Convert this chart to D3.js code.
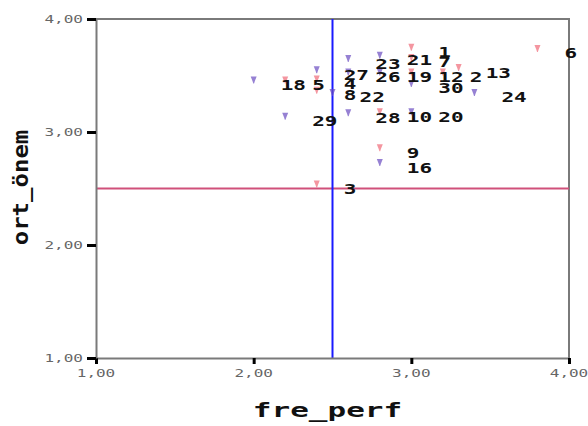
<!DOCTYPE html>
<html>
<head>
<meta charset="utf-8">
<script src="https://cdn.jsdelivr.net/npm/d3@7"></script>
<style>
  body { margin: 0; background: #fff; }
  svg { display: block; }
</style>
</head>
<body>
<div id="chart"></div>
<script>
var width = 588;
var height = 426;
var margin = {top: 19, right: 19, bottom: 68, left: 96};
var w = width - margin.left - margin.right;
var h = height - margin.top - margin.bottom;

// case labels, fre_perf, ort_önem, marker colour group
var caseLabels = ["18", "5", "29", "27", "4", "8", "22", "3",
                  "23", "26", "28",
                  "21", "19", "10", "9", "16",
                  "1", "7", "12", "30", "20",
                  "2", "13", "24", "6"];
var frePerf = [2.0, 2.2, 2.2, 2.4, 2.4, 2.4, 2.5, 2.4,
               2.6, 2.6, 2.6,
               2.8, 2.8, 2.8, 2.8, 2.8,
               3.0, 3.0, 3.0, 3.0, 3.0,
               3.2, 3.3, 3.4, 3.8];
var ortOnem = [3.46, 3.46, 3.14, 3.55, 3.47, 3.37, 3.35, 2.54,
               3.65, 3.53, 3.17,
               3.68, 3.53, 3.18, 2.86, 2.73,
               3.75, 3.66, 3.53, 3.43, 3.18,
               3.53, 3.57, 3.35, 3.74];
var groups = ["b", "r", "b", "b", "r", "r", "b", "r",
              "b", "b", "b",
              "b", "b", "r", "r", "b",
              "r", "r", "r", "b", "b",
              "r", "r", "b", "r"];
var xTicks = [1, 2, 3, 4];
var yTicks = [1, 2, 3, 4];
var refX = 2.5;
var refY = 2.5;

var points = caseLabels.map(function(d, i) {
  return {label: d, x: frePerf[i], y: ortOnem[i], g: groups[i]};
});

var x = d3.scaleLinear().domain([1, 4]).range([0, w]);
var y = d3.scaleLinear().domain([1, 4]).range([h, 0]);
var fmt = function(d) { return d3.format(".2f")(d).replace(".", ","); };

var svg = d3.select("#chart").append("svg")
  .attr("width", width)
  .attr("height", height)
  .append("g")
  .attr("transform", "translate(" + margin.left + "," + margin.top + ")");

// frame (top and right)
svg.append("path")
  .attr("d", "M0,0H" + w + "V" + h)
  .attr("fill", "none")
  .attr("stroke", "#7a7a7a")
  .attr("stroke-width", 2);

// reference lines
svg.append("line")
  .attr("x1", 0).attr("x2", w)
  .attr("y1", y(refY)).attr("y2", y(refY))
  .attr("stroke", "#d0507a")
  .attr("stroke-width", 2);
svg.append("line")
  .attr("x1", x(refX)).attr("x2", x(refX))
  .attr("y1", 0).attr("y2", h)
  .attr("stroke", "#1a1aff")
  .attr("stroke-width", 2);

// axes
var xAxis = svg.append("g")
  .attr("transform", "translate(0," + h + ")")
  .call(d3.axisBottom(x).tickValues(xTicks).tickSize(6).tickSizeOuter(0).tickFormat(""));
var yAxis = svg.append("g")
  .call(d3.axisLeft(y).tickValues(yTicks).tickSize(9).tickSizeOuter(0).tickFormat(""));
[xAxis, yAxis].forEach(function(a) {
  a.select(".domain").attr("stroke", "#7a7a7a").attr("stroke-width", 2);
  a.selectAll(".tick line").attr("stroke", "#000").attr("stroke-width", 3);
});

// tick labels
svg.selectAll(".xlab")
  .data(xTicks)
  .enter().append("text")
  .attr("class", "xlab")
  .attr("transform", function(d) { return "translate(" + x(d) + "," + (h + 19) + ") scale(1.6,1)"; })
  .attr("text-anchor", "middle")
  .attr("font-family", "DejaVu Sans Mono")
  .attr("font-size", 10)
  .attr("fill", "#666")
  .text(fmt);
svg.selectAll(".ylab")
  .data(yTicks)
  .enter().append("text")
  .attr("class", "ylab")
  .attr("transform", function(d) { return "translate(-13," + (y(d) + 3.5) + ") scale(1.6,1)"; })
  .attr("text-anchor", "end")
  .attr("font-family", "DejaVu Sans Mono")
  .attr("font-size", 10)
  .attr("fill", "#666")
  .text(fmt);

// axis titles
svg.append("text")
  .attr("transform", "translate(" + (w / 2 - 5) + "," + (h + 59) + ") scale(1.55,1)")
  .attr("text-anchor", "middle")
  .attr("font-family", "DejaVu Sans Mono")
  .attr("font-weight", "bold")
  .attr("font-size", 20)
  .attr("fill", "#111")
  .text("fre_perf");
svg.append("text")
  .attr("transform", "translate(" + (-margin.left + 28) + "," + (h / 2 - 1) + ") scale(0.85,1) rotate(-90)")
  .attr("text-anchor", "middle")
  .attr("font-family", "DejaVu Sans Mono")
  .attr("font-weight", "bold")
  .attr("font-size", 24)
  .attr("fill", "#111")
  .text("ort_önem");

// markers
var marker = "M-3,-3.5L3,-3.5L1.2,1L0.4,3.5L-0.4,3.5L-1.2,1Z";
svg.selectAll(".pt")
  .data(points)
  .enter().append("path")
  .attr("class", "pt")
  .attr("d", marker)
  .attr("transform", function(d) { return "translate(" + x(d.x) + "," + y(d.y) + ")"; })
  .attr("fill", function(d) { return d.g === "r" ? "#f06a78" : "#6a4cc0"; })
  .attr("fill-opacity", 0.7);

// case labels
svg.selectAll(".lab")
  .data(points)
  .enter().append("text")
  .attr("class", "lab")
  .attr("transform", function(d) { return "translate(" + (x(d.x) + 27) + "," + (y(d.y) + 10) + ") scale(1.5,1)"; })
  .attr("font-family", "DejaVu Sans Mono")
  .attr("font-weight", "bold")
  .attr("font-size", 14)
  .attr("fill", "#111")
  .text(function(d) { return d.label; });
</script>
</body>
</html>
